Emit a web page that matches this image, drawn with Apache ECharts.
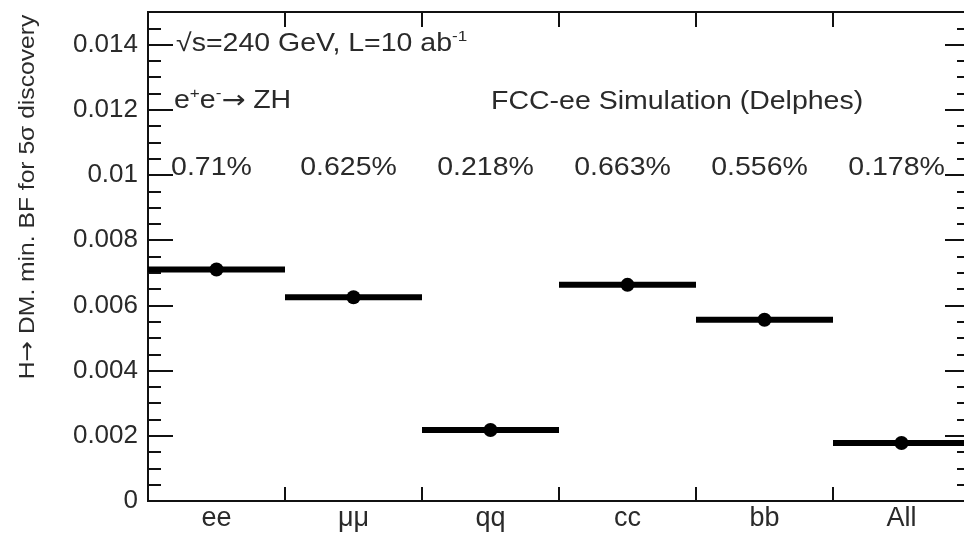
<!DOCTYPE html>
<html><head><meta charset="utf-8">
<script src="https://cdn.jsdelivr.net/npm/echarts@6/dist/echarts.min.js"></script>
<style>html,body{margin:0;padding:0;background:#fff}#c{width:964px;height:534px}</style>
</head><body><div id="c"></div>
<script>
const categories = ['ee', 'μμ', 'qq', 'cc', 'bb', 'All'];
const minBF = [0.0071, 0.00625, 0.00218, 0.00663, 0.00556, 0.00178];
const percentLabels = ['0.71%', '0.625%', '0.218%', '0.663%', '0.556%', '0.178%'];
const yMajorTicks = [0, 0.002, 0.004, 0.006, 0.008, 0.01, 0.012, 0.014];

const FONT = 'Liberation Sans, Arial, sans-serif';
const TXT = '#2a2a2a';
const SX = 1.14;
const chart = echarts.init(document.getElementById('c'));
const grid = {left: 148, width: 822, top: 12, height: 489, outerBoundsMode: 'none', containLabel: false};
const labelY = 0.0102;

function yAx(pos, major, showLabel) {
  return {
    type: 'value', position: pos, min: 0, max: 0.015,
    interval: major ? 0.002 : 0.0005,
    axisLine: {show: true, onZero: false, lineStyle: {color: '#111', width: 2}},
    axisTick: {show: true, inside: true, length: major ? 25 : 13, lineStyle: {color: '#111', width: 2}},
    axisLabel: {show: showLabel, showMaxLabel: false, margin: 10, color: TXT, fontFamily: FONT, fontSize: 26,
      formatter: v => yMajorTicks.some(t => Math.abs(t - v) < 1e-9) ? String(+v.toFixed(4)) : ''},
    splitLine: {show: false}
  };
}

chart.setOption({
  animation: false,
  grid: grid,
  xAxis: [
    {type: 'category', data: categories, position: 'bottom', boundaryGap: true,
     axisLine: {onZero: false, lineStyle: {color: '#111', width: 2}},
     axisTick: {show: true, inside: true, length: 14, alignWithLabel: false, lineStyle: {color: '#111', width: 2}},
     axisLabel: {color: TXT, fontFamily: FONT, fontSize: 27, margin: 4}},
    {type: 'category', data: categories, position: 'top', boundaryGap: true,
     axisLine: {onZero: false, lineStyle: {color: '#111', width: 2}},
     axisTick: {show: true, inside: true, length: 15, lineStyle: {color: '#111', width: 2}},
     axisLabel: {show: false}}
  ],
  yAxis: [yAx('left', true, true), yAx('left', false, false), yAx('right', true, false), yAx('right', false, false)],
  series: [
    {type: 'custom', xAxisIndex: 0, yAxisIndex: 0,
     data: minBF.map((v, i) => [i, v]),
     renderItem: function (params, api) {
       const c = api.coord([api.value(0), api.value(1)]);
       const w = api.size([1, 0])[0];
       return {type: 'line', shape: {x1: c[0] - w / 2, y1: c[1], x2: c[0] + w / 2, y2: c[1]},
               style: {stroke: '#000', lineWidth: 6}};
     }, z: 3},
    {type: 'scatter', xAxisIndex: 0, yAxisIndex: 0, symbol: 'circle', symbolSize: 14,
     itemStyle: {color: '#000', opacity: 1}, data: minBF.map((v, i) => [i, v]), z: 4},
    {type: 'custom', xAxisIndex: 0, yAxisIndex: 0,
     data: percentLabels.map((p, i) => [i, labelY]),
     renderItem: function (params, api) {
       const c = api.coord([api.value(0), api.value(1)]);
       return {type: 'text', x: c[0] - 5, y: c[1], scaleX: SX,
               style: {text: percentLabels[params.dataIndex], fill: TXT, font: '25px ' + FONT,
                       textAlign: 'center', textVerticalAlign: 'middle'}};
     }, z: 5}
  ],
  graphic: [
    {type: 'text', x: 28, y: 197, rotation: Math.PI / 2, scaleX: 1.12,
     style: {text: 'H{a|→} DM. min. BF for 5σ discovery', fill: TXT, font: '22px ' + FONT,
       textAlign: 'center', textVerticalAlign: 'middle',
       rich: {a: {fontFamily: 'DejaVu Sans', fontSize: 22, fill: TXT}}}},
    {type: 'text', x: 176, y: 44, scaleX: SX,
     style: {text: '√s=240 GeV, L=10 ab{s|-1}', fill: TXT, font: '25px ' + FONT, textVerticalAlign: 'middle',
       rich: {s: {fontSize: 15, padding: [0,0,14,0], fill: TXT, fontFamily: FONT}}}},
    {type: 'text', x: 174, y: 101, scaleX: SX,
     style: {text: 'e{s|+}e{s|-}{a|→} ZH', fill: TXT, font: '25px ' + FONT, textVerticalAlign: 'middle',
       rich: {s: {fontSize: 15, padding: [0,0,14,0], fill: TXT, fontFamily: FONT},
              a: {fontFamily: 'DejaVu Sans', fontSize: 25, fill: TXT}}}},
    {type: 'text', x: 491, y: 102, scaleX: SX,
     style: {text: 'FCC-ee Simulation (Delphes)', fill: TXT, font: '25px ' + FONT, textVerticalAlign: 'middle'}}
  ]
});
</script></body></html>
